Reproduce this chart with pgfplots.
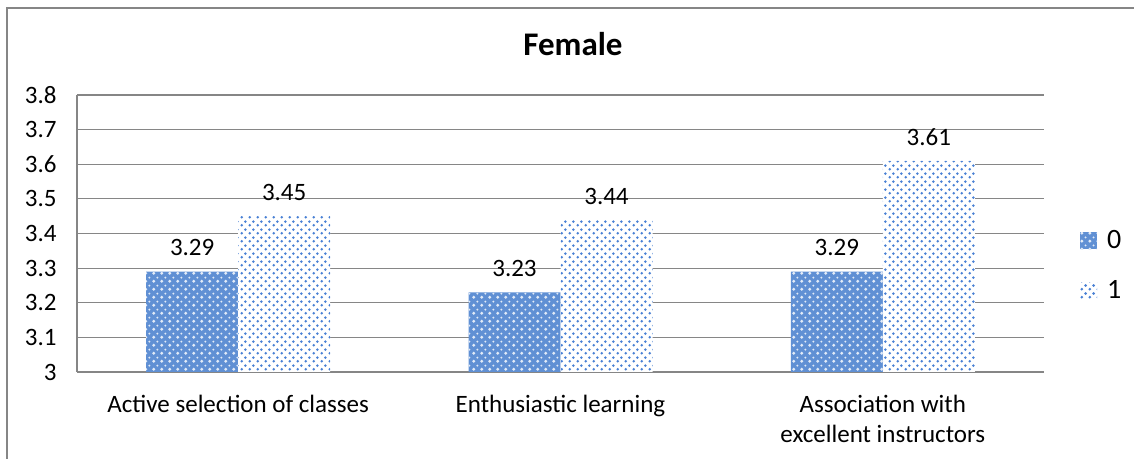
\documentclass[border=0pt]{standalone}
\usepackage{fontspec}
\setmainfont{Carlito}
\usepackage{pgfplots}
\pgfplotsset{compat=1.18}
\usetikzlibrary{patterns}

\definecolor{gridgray}{RGB}{134,134,134}
\definecolor{barzero}{RGB}{96,144,212}
\definecolor{dotblue}{RGB}{72,128,212}

% staggered dots, 4pt apart in each row, rows 2pt apart
\pgfdeclarepatternformonly{stagdots}{\pgfqpoint{0pt}{0pt}}{\pgfqpoint{4pt}{4pt}}{\pgfqpoint{4pt}{4pt}}{%
  \pgfpathcircle{\pgfqpoint{1pt}{1pt}}{0.8pt}%
  \pgfpathcircle{\pgfqpoint{3pt}{3pt}}{0.8pt}%
  \pgfusepath{fill}}
% lighter diamonds on the dark bars
\pgfdeclarepatternformonly{diadots}{\pgfqpoint{0pt}{0pt}}{\pgfqpoint{4pt}{4pt}}{\pgfqpoint{4pt}{4pt}}{%
  \pgfpathcircle{\pgfqpoint{1pt}{1pt}}{0.9pt}%
  \pgfpathcircle{\pgfqpoint{3pt}{3pt}}{0.6pt}%
  \pgfusepath{fill}}

\begin{document}
\begin{tikzpicture}
\path[use as bounding box] (0,0) rectangle (567pt,229.5pt);
% chart frame (left and top edges)
\draw[gridgray, line width=0.7pt] (3.5pt,0) -- (3.5pt,225.5pt) -- (567pt,225.5pt);
\node[font=\fontsize{16.5}{19}\selectfont\bfseries] at (286.5pt,207.5pt) {Female};

\begin{axis}[
  at={(38.5pt,43.5pt)}, anchor=south west,
  scale only axis,
  width=483.5pt, height=138.5pt,
  xmin=-0.5, xmax=2.5,
  ymin=3, ymax=3.8,
  ytick={3,3.1,...,3.8},
  yticklabel style={/pgf/number format/fixed, /pgf/number format/precision=1},
  /pgf/number format/assume math mode=true,
  xtick=data,
  xticklabels={Active selection of classes, Enthusiastic learning, {Association with\\excellent instructors}},
  font=\fontsize{12.5}{15}\selectfont,
  ticklabel style={font=\fontsize{12.5}{15}\selectfont},
  xticklabel style={align=center, anchor=north, inner sep=0pt, yshift=-11.5pt},
  yticklabel style={anchor=east, inner sep=0pt, xshift=-10pt},
  major tick length=0pt,
  axis x line=bottom, axis y line=left,
  axis line style={-, draw=gridgray, line width=0.6pt},
  ymajorgrids,
  grid style={draw=gridgray, line width=0.6pt},
  ybar=0pt, bar width=46pt,
  nodes near coords={\pgfmathprintnumber[fixed,precision=2,zerofill]{\pgfplotspointmeta}},
  nodes near coords style={anchor=south, inner sep=0pt, yshift=7.5pt, font=\fontsize{12.5}{15}\selectfont, text=black},
  legend style={draw=none, fill=none, at={(1.037,0.383)}, anchor=west,
    inner sep=0pt, row sep=14.5pt,
    nodes={inner sep=0pt, font=\fontsize{14}{16}\selectfont},
    /tikz/every odd column/.append style={column sep=5pt}},
  legend cell align=left,
  legend image code/.code={\path[#1] (0pt,-4.25pt) rectangle (8.5pt,4.25pt);},
]
\addplot[draw=none, fill=barzero, postaction={pattern=diadots, pattern color=white!82!barzero}]
  coordinates {(0,3.29) (1,3.23) (2,3.29)};
\addplot[draw=none, fill=white, postaction={pattern=stagdots, pattern color=dotblue}]
  coordinates {(0,3.45) (1,3.44) (2,3.61)};
\legend{0,1}
\end{axis}
\end{tikzpicture}
\end{document}
